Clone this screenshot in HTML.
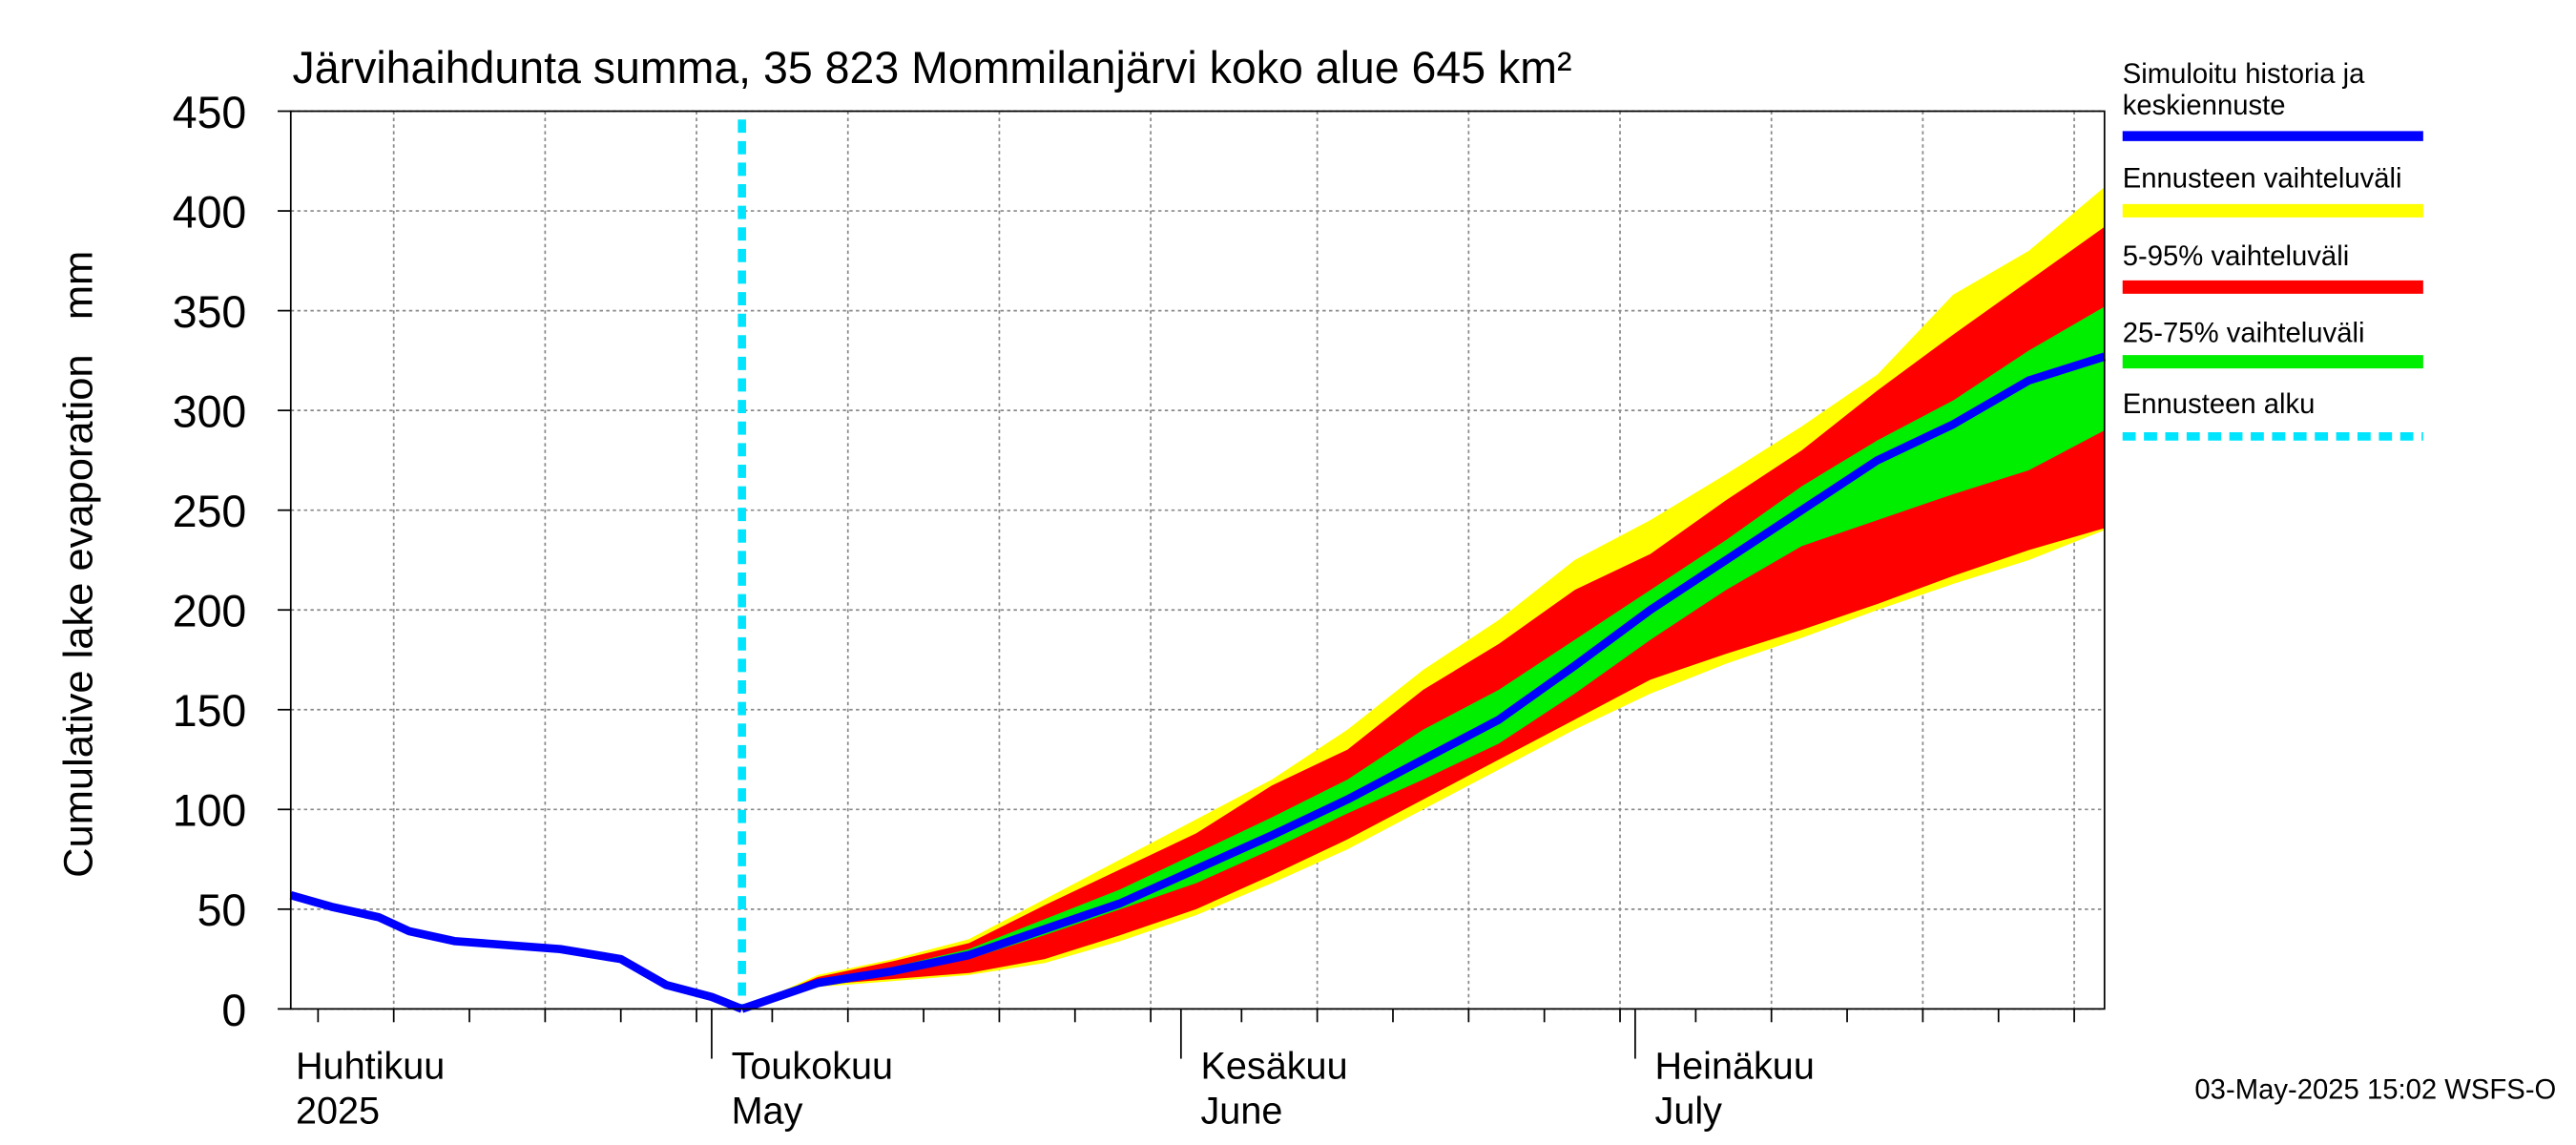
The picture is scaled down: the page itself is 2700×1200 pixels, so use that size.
<!DOCTYPE html>
<html><head><meta charset="utf-8"><style>
html,body{margin:0;padding:0;background:#fff;}
svg{display:block;font-family:"Liberation Sans",sans-serif;}
</style></head><body>
<svg id="chart" width="2700" height="1200" viewBox="0 0 1568 690" preserveAspectRatio="none" xmlns="http://www.w3.org/2000/svg">
<rect x="0" y="0" width="1568" height="690" fill="#fff"/>
<text x="178" y="50" font-size="27">Järvihaihdunta summa, 35 823 Mommilanjärvi koko alue 645 km²</text>
<text transform="translate(56,340) rotate(-90)" text-anchor="middle" font-size="25" style="white-space:pre">Cumulative lake evaporation   mm</text>
<g id="grid"></g>
<g id="bands"></g>
<g id="lines"></g>
<g id="axes"></g>
<g id="legend">
 <text x="1292" y="50" font-size="17">Simuloitu historia ja</text>
 <text x="1292" y="69" font-size="17">keskiennuste</text>
 <line x1="1292" y1="82" x2="1475" y2="82" stroke="#0000ff" stroke-width="6"/>
 <text x="1292" y="113" font-size="17">Ennusteen vaihteluväli</text>
 <line x1="1292" y1="127" x2="1475" y2="127" stroke="#ffff00" stroke-width="8"/>
 <text x="1292" y="160" font-size="17">5-95% vaihteluväli</text>
 <line x1="1292" y1="173" x2="1475" y2="173" stroke="#ff0000" stroke-width="8"/>
 <text x="1292" y="206" font-size="17">25-75% vaihteluväli</text>
 <line x1="1292" y1="218" x2="1475" y2="218" stroke="#00ee00" stroke-width="8"/>
 <text x="1292" y="249" font-size="17">Ennusteen alku</text>
 <line x1="1292" y1="263" x2="1475" y2="263" stroke="#00e5ff" stroke-width="5" stroke-dasharray="8,5"/>
</g>
<text x="1556" y="662" text-anchor="end" font-size="17">03-May-2025 15:02 WSFS-O</text>
</svg>
<script>
// days relative to May 1
const histDays = [-28,-25,-22,-20,-17,-10,-6,-3,0,2];
const histVals = [57,51,46,39,34,30,25,12,6,0];
const fcDays = [2,7,12,17,22,27,32,37,42,47,52,57,62,67,72,77,82,87,92];
const median = [0,13,19,27,40,53,70,87,105,125,145,172,200,225,250,275,293,315,327];
const p25 = [0,12,18,25,37,50,63,80,98,115,133,158,185,210,232,245,258,270,290];
const p75 = [0,15,21,30,45,60,78,96,115,140,160,185,210,235,262,285,305,330,352];
const p5 = [0,12,15,18,25,37,50,67,85,105,125,145,165,178,190,203,217,230,241];
const p95 = [0,16,24,33,52,70,88,112,130,160,183,210,228,255,280,310,338,365,392];
const pmin = [0,11,14,17,23,34,47,63,80,100,120,140,158,173,186,200,213,225,240];
const pmax = [0,17,25,35,55,75,95,115,140,170,195,225,245,268,292,318,358,380,412];
const yTicks = [0,50,100,150,200,250,300,350,400,450];
const forecastStart = 2;

const NS="http://www.w3.org/2000/svg";
const X0=177,X1=1281,Y0=608,Y1=67;
const tMin=-27.8,tMax=92;
const xs=t=>X0+(t-tMin)/(tMax-tMin)*(X1-X0);
const ys=v=>Y0-v/450*(Y0-Y1);
function mk(tag,attrs,parent){const e=document.createElementNS(NS,tag);for(const k in attrs)e.setAttribute(k,attrs[k]);parent.appendChild(e);return e;}
const grid=document.getElementById('grid'),bands=document.getElementById('bands'),lines=document.getElementById('lines'),axes=document.getElementById('axes');

yTicks.forEach(v=>{
 const l=mk('line',{x1:X0,x2:X1,y1:ys(v),y2:ys(v),stroke:'#888','stroke-width':1,'stroke-dasharray':'2,2'},grid);
 
 
 const t=mk('text',{x:150,y:ys(v)+10,'text-anchor':'end','font-size':27},axes);
 t.textContent=v;
 
 
 mk('line',{x1:X0-8,x2:X0,y1:ys(v),y2:ys(v),stroke:'#000'},axes);
});
const months=[[-30,30],[0,31],[31,30],[61,31]];
months.forEach(([s,len],mi)=>{
 if(mi>0){mk('line',{x1:xs(s),x2:xs(s),y1:Y0,y2:Y0+30,stroke:'#000'},axes);}
 [5,10,15,20,25,30].forEach(d=>{
  const t=s+d-1;
  if(d>len)return;
  if(t<tMin||t>tMax)return;
  mk('line',{x1:xs(t),x2:xs(t),y1:Y0,y2:Y0+8,stroke:'#000'},axes);
  if(d%10==0){
   const g=mk('line',{x1:xs(t),x2:xs(t),y1:Y1,y2:Y0,stroke:'#888','stroke-dasharray':'2,2'},grid);
   
   
  }
 });
});
const labels=[[-30,'Huhtikuu','2025',180],[0,'Toukokuu','May',null],[31,'Kesäkuu','June',null],[61,'Heinäkuu','July',null]];
labels.forEach(([s,a,b,fx])=>{
 const x=fx!==null?fx:xs(s)+12;
 const t1=mk('text',{x:x,y:650,'font-size':23},axes);t1.textContent=a;
 
 
 const t2=mk('text',{x:x,y:677,'font-size':23},axes);t2.textContent=b;
 
 
});
function band(lo,hi,color,name){
 let d='M'+fcDays.map((t,i)=>xs(t)+','+ys(hi[i])).join('L');
 d+='L'+fcDays.slice().reverse().map((t,j)=>{const i=fcDays.length-1-j;return xs(t)+','+ys(lo[i]);}).join('L')+'Z';
 const p=mk('path',{d:d,fill:color},bands);
 
 
}
band(pmin,pmax,'#ffff00','band-min-max');
band(p5,p95,'#ff0000','band-5-95');
band(p25,p75,'#00ee00','band-25-75');
const fs=mk('line',{x1:xs(forecastStart),x2:xs(forecastStart),y1:Y1+5,y2:Y0,stroke:'#00e5ff','stroke-width':5,'stroke-dasharray':'8,5'},lines);


function line(ts,vs,name){
 const p=mk('polyline',{points:ts.map((t,i)=>xs(Math.max(t,tMin))+','+ys(vs[i])).join(' '),fill:'none',stroke:'#0000ff','stroke-width':5,'stroke-linejoin':'round'},lines);
 
 
}
line(histDays,histVals,'history-line');
line(fcDays,median,'median-forecast-line');
mk('rect',{x:X0,y:Y1,width:X1-X0,height:Y0-Y1,fill:'none',stroke:'#000','stroke-width':1},axes);
</script>
</body></html>
